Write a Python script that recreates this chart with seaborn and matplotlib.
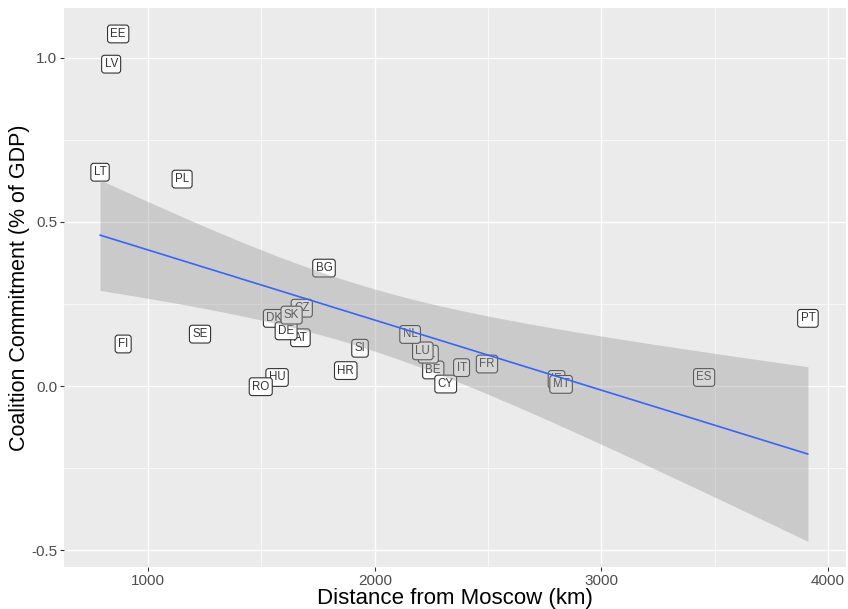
import matplotlib
matplotlib.use("Agg")
import matplotlib.pyplot as plt
import numpy as np
import seaborn as sns
import pandas as pd

codes = ['AT', 'BE', 'BG', 'HR', 'CY', 'CZ', 'DK', 'EE', 'FI', 'FR', 'DE', 'EL', 'HU', 'IE',
         'IT', 'LV', 'LT', 'LU', 'MT', 'NL', 'PL', 'PT', 'RO', 'SK', 'SI', 'ES', 'SE']
distance_km = [1672, 2258, 1776, 1872, 2313, 1678, 1557, 868, 890, 2495, 1609, 2236, 1569, 2802,
               2383, 837, 788, 2212, 2822, 2156, 1150, 3911, 1497, 1633, 1935, 3453, 1229]
commitment = [0.147, 0.049, 0.359, 0.047, 0.006, 0.237, 0.206, 1.072, 0.128, 0.067, 0.168, 0.097,
              0.026, 0.020, 0.056, 0.980, 0.651, 0.107, 0.005, 0.157, 0.630, 0.206, -0.002, 0.216,
              0.115, 0.026, 0.158]
x_ticks = [1000, 2000, 3000, 4000]
y_ticks = [-0.5, 0.0, 0.5, 1.0]

df = pd.DataFrame({"code": codes, "dist": distance_km, "val": commitment})

sns.set_theme(style="darkgrid")
plt.rcParams['font.family'] = ['Liberation Sans', 'DejaVu Sans']

fig = plt.figure(figsize=(8.48, 6.09), dpi=100)
ax = fig.add_axes([64 / 848, 1 - 567 / 609, (846 - 64) / 848, (567 - 8) / 609])
ax.set_facecolor('#EBEBEB')
for s in ax.spines.values():
    s.set_visible(False)

for _, r in df.iterrows():
    ax.text(r['dist'], r['val'], r['code'], ha='center', va='center', fontsize=8.3,
            color='#333333', zorder=3,
            bbox=dict(boxstyle='round,pad=0.25,rounding_size=0.25', fc='white', ec='#333333', lw=0.8))

# linear fit line via seaborn, confidence band (analytic t-interval, like ggplot's geom_smooth)
sns.regplot(data=df, x='dist', y='val', scatter=False, ci=None, ax=ax,
            line_kws=dict(color='#3366FF', lw=1.2, zorder=5))
x = np.asarray(distance_km, float)
y = np.asarray(commitment, float)
n = len(x)
b1, b0 = np.polyfit(x, y, 1)
resid = y - (b0 + b1 * x)
s = np.sqrt(np.sum(resid ** 2) / (n - 2))
xs = np.linspace(x.min(), x.max(), 200)
se = s * np.sqrt(1 / n + (xs - x.mean()) ** 2 / np.sum((x - x.mean()) ** 2))
tcrit = 2.0595  # t(0.975, df=25)
yhat = b0 + b1 * xs
ax.fill_between(xs, yhat - tcrit * se, yhat + tcrit * se, color='#999999', alpha=0.4,
                lw=0, zorder=4)

ax.set_xlim(629, 4079)
ax.set_ylim(-0.551, 1.151)
ax.set_xticks(x_ticks)
ax.set_yticks(y_ticks)
ax.set_yticklabels([f"{v:.1f}" for v in y_ticks])
ax.set_xticks([1500, 2500, 3500], minor=True)
ax.set_yticks([-0.25, 0.25, 0.75], minor=True)
ax.grid(which='major', color='white', lw=1.0)
ax.grid(which='minor', color='white', lw=0.5)
ax.set_axisbelow(True)
ax.tick_params(which='major', length=3, width=0.8, color='#333333', labelsize=11,
               labelcolor='#4D4D4D', pad=2, bottom=True, left=True)
ax.tick_params(which='minor', length=0)

ax.set_xlabel('Distance from Moscow (km)', fontsize=16, color='black', labelpad=0)
ax.set_ylabel('Coalition Commitment (% of GDP)', fontsize=15.5, color='black', labelpad=1)

fig.savefig('out.png', dpi=100)
